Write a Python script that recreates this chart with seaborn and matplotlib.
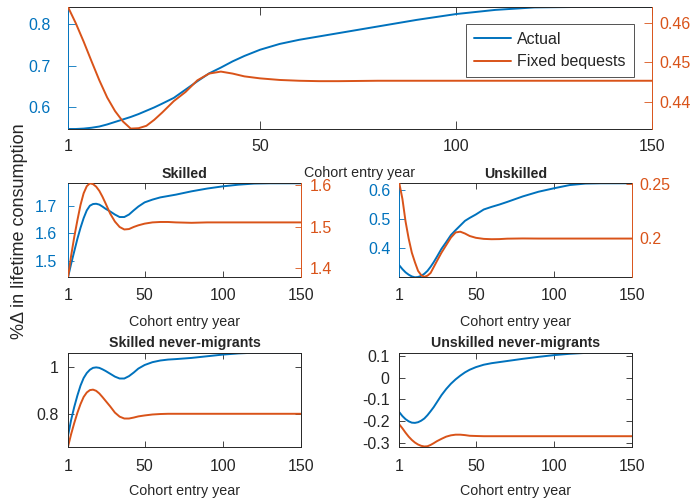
import matplotlib
matplotlib.use("Agg")
import matplotlib.pyplot as plt
import seaborn as sns

# Cohort entry years at which each series is sampled
years = [1, 3, 5, 7, 9, 11, 13, 15, 17, 19, 21, 23, 25, 28, 31, 34, 37, 40, 43,
         46, 50, 55, 60, 65, 70, 80, 90, 100, 110, 120, 130, 140, 150]

# Aggregate: % change in lifetime consumption
all_actual = [0.547, 0.547, 0.548, 0.550, 0.553, 0.558, 0.564, 0.570, 0.576, 0.583,
              0.591, 0.599, 0.608, 0.622, 0.642, 0.662, 0.681, 0.695, 0.710, 0.723,
              0.738, 0.752, 0.762, 0.770, 0.778, 0.794, 0.810, 0.824, 0.834, 0.840,
              0.841, 0.841, 0.841]
all_fixed = [0.4639, 0.4598, 0.4552, 0.4503, 0.4455, 0.4412, 0.4378, 0.4352, 0.4334,
             0.4335, 0.4341, 0.4356, 0.4374, 0.4403, 0.4426, 0.4455, 0.4472, 0.4477,
             0.4472, 0.4465, 0.4460, 0.4456, 0.4454, 0.4453, 0.4453, 0.4454, 0.4454,
             0.4454, 0.4454, 0.4454, 0.4454, 0.4454, 0.4454]

# Skilled
sk_actual = [1.441, 1.490, 1.535, 1.580, 1.620, 1.655, 1.683, 1.700, 1.706, 1.707,
             1.704, 1.697, 1.689, 1.679, 1.668, 1.659, 1.659, 1.668, 1.683, 1.697,
             1.712, 1.722, 1.730, 1.735, 1.740, 1.752, 1.762, 1.770, 1.776, 1.780,
             1.781, 1.781, 1.781]
sk_fixed = [1.378, 1.430, 1.475, 1.515, 1.552, 1.580, 1.597, 1.604, 1.602, 1.596,
            1.586, 1.572, 1.556, 1.531, 1.512, 1.499, 1.493, 1.494, 1.499, 1.503,
            1.507, 1.510, 1.511, 1.511, 1.510, 1.509, 1.510, 1.510, 1.510, 1.510,
            1.510, 1.510, 1.510]

# Unskilled
un_actual = [0.341, 0.328, 0.317, 0.309, 0.303, 0.300, 0.301, 0.305, 0.312, 0.322,
             0.336, 0.352, 0.370, 0.398, 0.421, 0.445, 0.462, 0.478, 0.494, 0.504,
             0.516, 0.533, 0.542, 0.550, 0.559, 0.578, 0.594, 0.606, 0.617, 0.622,
             0.623, 0.623, 0.623]
un_fixed = [0.2506, 0.2360, 0.2150, 0.1990, 0.1860, 0.1770, 0.1690, 0.1650, 0.1634,
            0.1645, 0.1670, 0.1725, 0.1780, 0.1860, 0.1930, 0.2000, 0.2048, 0.2055,
            0.2038, 0.2015, 0.1998, 0.1988, 0.1985, 0.1986, 0.1990, 0.1992, 0.1991,
            0.1991, 0.1991, 0.1991, 0.1991, 0.1991, 0.1991]

# Skilled never-migrants
skn_actual = [0.708, 0.775, 0.830, 0.878, 0.920, 0.952, 0.973, 0.987, 0.995, 0.997,
              0.995, 0.989, 0.982, 0.970, 0.958, 0.950, 0.950, 0.960, 0.975, 0.992,
              1.007, 1.019, 1.026, 1.030, 1.032, 1.037, 1.044, 1.051, 1.056, 1.059,
              1.059, 1.059, 1.059]
skn_fixed = [0.662, 0.715, 0.762, 0.805, 0.842, 0.872, 0.891, 0.901, 0.903, 0.898,
             0.887, 0.872, 0.856, 0.832, 0.806, 0.789, 0.781, 0.781, 0.785, 0.790,
             0.794, 0.798, 0.800, 0.801, 0.801, 0.801, 0.801, 0.801, 0.801, 0.801,
             0.801, 0.801, 0.801]

# Unskilled never-migrants
unn_actual = [-0.158, -0.176, -0.190, -0.200, -0.206, -0.207, -0.204, -0.197, -0.187,
              -0.172, -0.154, -0.135, -0.113, -0.080, -0.052, -0.028, -0.008, 0.009,
              0.024, 0.036, 0.048, 0.059, 0.066, 0.071, 0.076, 0.086, 0.095, 0.103,
              0.109, 0.113, 0.114, 0.114, 0.114]
unn_fixed = [-0.214, -0.232, -0.252, -0.270, -0.285, -0.297, -0.306, -0.312, -0.315,
             -0.314, -0.308, -0.300, -0.291, -0.280, -0.270, -0.264, -0.261, -0.261,
             -0.263, -0.266, -0.267, -0.268, -0.268, -0.268, -0.268, -0.268, -0.268,
             -0.268, -0.268, -0.268, -0.268, -0.268, -0.268]

series_names = ["Actual", "Fixed bequests"]
x_ticks = [1, 50, 100, 150]

BLUE = "#0072BD"
ORANGE = "#D95319"
GRAY = "#262626"
LW = 1.4

sns.set_style("white")
plt.rcParams["font.family"] = ["Liberation Sans", "DejaVu Sans"]

W, H = 694, 500
fig = plt.figure(figsize=(W / 100, H / 100), dpi=100)


def rect(x0, y0, x1, y1):
    return [x0 / W, 1 - y1 / H, (x1 - x0) / W, (y1 - y0) / H]


def fmt(v):
    return "{:g}".format(v)


def base_axes(r, xlab_y, xpad, ticklen):
    ax = fig.add_axes(r)
    ax.set_xlim(1, 150)
    ax.set_xticks(x_ticks)
    ax.set_xticklabels([fmt(t) for t in x_ticks])
    ax.tick_params(axis="x", direction="in", length=ticklen, width=0.6,
                   color=GRAY, labelcolor=GRAY, labelsize=11.5, pad=xpad,
                   top=True, bottom=True)
    ax.set_xlabel("Cohort entry year", fontsize=10.3, color=GRAY)
    ax.xaxis.label.set_va("center")
    ax.xaxis.set_label_coords(0.5, xlab_y)
    for s in ax.spines.values():
        s.set_linewidth(0.7)
        s.set_color(GRAY)
    ax.grid(False)
    return ax


def twin_panel(r, actual, fixed, ylim_l, yt_l, ylim_r, yt_r, lpad, rpad,
               xlab_y, xpad, ticklen, title=None):
    ax = base_axes(r, xlab_y, xpad, ticklen)
    sns.lineplot(x=years, y=actual, ax=ax, color=BLUE, lw=LW, label=series_names[0])
    ax.set_ylim(*ylim_l)
    ax.set_yticks(yt_l)
    ax.set_yticklabels([fmt(t) for t in yt_l])
    ax.tick_params(axis="y", direction="in", length=ticklen, width=0.6,
                   color=BLUE, labelcolor=BLUE, labelsize=11.5, pad=lpad,
                   left=True, right=False)
    ax.spines["left"].set_color(BLUE)
    ax.spines["right"].set_visible(False)
    ax.set_ylabel("")

    ax2 = ax.twinx()
    sns.lineplot(x=years, y=fixed, ax=ax2, color=ORANGE, lw=LW, label=series_names[1])
    ax2.set_xlim(1, 150)
    ax2.set_ylim(*ylim_r)
    ax2.set_yticks(yt_r)
    ax2.set_yticklabels([fmt(t) for t in yt_r])
    ax2.tick_params(axis="y", direction="in", length=ticklen, width=0.6,
                    color=ORANGE, labelcolor=ORANGE, labelsize=11.5, pad=rpad,
                    left=False, right=True)
    for side in ("left", "top", "bottom"):
        ax2.spines[side].set_visible(False)
    ax2.spines["right"].set_color(ORANGE)
    ax2.spines["right"].set_linewidth(0.7)
    ax2.set_ylabel("")
    ax2.grid(False)
    for a in (ax, ax2):
        if a.get_legend() is not None:
            a.get_legend().remove()
    if title:
        ax.set_title(title, fontsize=10.2, fontweight="bold", pad=4)
    return ax, ax2


def single_panel(r, actual, fixed, ylim, yt, lpad, xlab_y, xpad, ticklen, title):
    ax = base_axes(r, xlab_y, xpad, ticklen)
    sns.lineplot(x=years, y=actual, ax=ax, color=BLUE, lw=LW, legend=False)
    sns.lineplot(x=years, y=fixed, ax=ax, color=ORANGE, lw=LW, legend=False)
    ax.set_ylim(*ylim)
    ax.set_yticks(yt)
    ax.set_yticklabels([fmt(t) for t in yt])
    ax.tick_params(axis="y", direction="in", length=ticklen, width=0.6,
                   color=GRAY, labelcolor=GRAY, labelsize=11.5, pad=lpad,
                   left=True, right=True)
    ax.set_ylabel("")
    ax.set_title(title, fontsize=10.2, fontweight="bold", pad=4)
    return ax


# Top: all cohorts
top, top2 = twin_panel(rect(68, 7, 652, 129), all_actual, all_fixed,
                       (0.547, 0.841), [0.6, 0.7, 0.8],
                       (0.4333, 0.4639), [0.44, 0.45, 0.46],
                       lpad=12.5, rpad=5, xlab_y=-0.358, xpad=7, ticklen=6)
handles = top.get_lines()[:1] + top2.get_lines()[:1]
leg = top2.legend(handles, series_names, loc="upper right",
                  bbox_to_anchor=(0.969, 0.861), fontsize=11.5, frameon=True,
                  fancybox=False, edgecolor=GRAY, handlelength=2.3,
                  labelspacing=0.45, borderpad=0.5, handletextpad=0.4,
                  borderaxespad=0)
leg.get_frame().set_linewidth(0.7)

# Middle row
twin_panel(rect(68, 183.3, 301, 277.3), sk_actual, sk_fixed,
           (1.441, 1.781), [1.5, 1.6, 1.7], (1.378, 1.604), [1.4, 1.5, 1.6],
           lpad=8, rpad=6.5, xlab_y=-0.472, xpad=7.7, ticklen=4, title="Skilled")
twin_panel(rect(399.3, 183.3, 632.3, 277.3), un_actual, un_fixed,
           (0.300, 0.623), [0.4, 0.5, 0.6], (0.163, 0.2506), [0.2, 0.25],
           lpad=6, rpad=5, xlab_y=-0.472, xpad=7.7, ticklen=4, title="Unskilled")

# Bottom row
single_panel(rect(68, 352.7, 301, 446.7), skn_actual, skn_fixed,
             (0.662, 1.059), [0.8, 1.0], lpad=7, xlab_y=-0.468, xpad=8.5,
             ticklen=4, title="Skilled never-migrants")
single_panel(rect(399.3, 352.7, 632.3, 446.7), unn_actual, unn_fixed,
             (-0.316, 0.114), [-0.3, -0.2, -0.1, 0, 0.1], lpad=7, xlab_y=-0.468,
             xpad=8.5, ticklen=4, title="Unskilled never-migrants")

fig.text(20 / W, 1 - 231 / H, "%\u0394 in lifetime consumption", rotation=90,
         ha="center", va="center", fontsize=13, color=GRAY)

fig.savefig("out.png", dpi=100)
